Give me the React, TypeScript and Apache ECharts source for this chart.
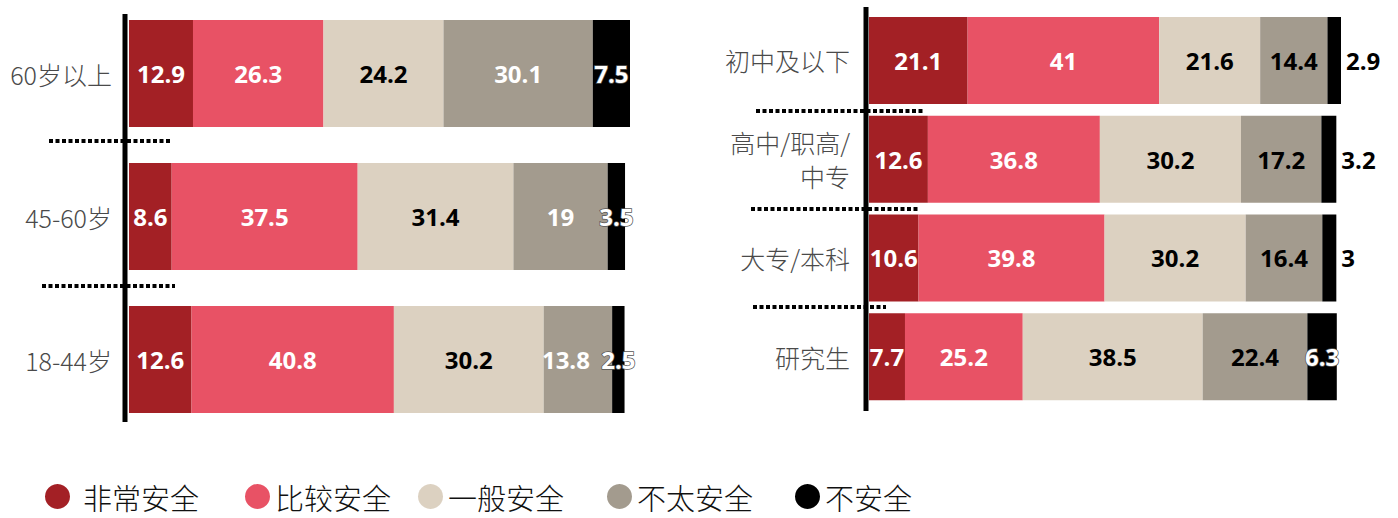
import React, { useEffect, useRef } from "react";
import * as echarts from "echarts";

const levels = ["非常安全", "比较安全", "一般安全", "不太安全", "不安全"];
const colors = ["#A32025", "#E85265", "#DCD1C1", "#A39B8E", "#000000"];

const ageCategories = ["60岁以上", "45-60岁", "18-44岁"];
const ageVerySafe = [12.9, 8.6, 12.6];
const ageFairlySafe = [26.3, 37.5, 40.8];
const ageAverage = [24.2, 31.4, 30.2];
const ageNotVery = [30.1, 19, 13.8];
const ageUnsafe = [7.5, 3.5, 2.5];

const eduCategories = ["初中及以下", "高中/职高/\n中专", "大专/本科", "研究生"];
const eduVerySafe = [21.1, 12.6, 10.6, 7.7];
const eduFairlySafe = [41, 36.8, 39.8, 25.2];
const eduAverage = [21.6, 30.2, 30.2, 38.5];
const eduNotVery = [14.4, 17.2, 16.4, 22.4];
const eduUnsafe = [2.9, 3.2, 3, 6.3];

const NUM_FONT = "'Open Sans', 'Noto Sans', sans-serif";
const CJK_FONT = "'Noto Sans CJK SC', 'Noto Sans', sans-serif";

export default function App() {
  const ref = useRef<HTMLDivElement>(null);
  useEffect(() => {
    if (!ref.current) return;
    const chart = echarts.init(ref.current, undefined, { renderer: "svg" });

    const baseLabel = (color: string) => ({
      show: true,
      position: "inside",
      color,
      fontFamily: NUM_FONT,
      fontWeight: "bold",
      fontSize: 24,
    });

    const ageSets = [ageVerySafe, ageFairlySafe, ageAverage, ageNotVery, ageUnsafe];
    const eduSets = [eduVerySafe, eduFairlySafe, eduAverage, eduNotVery, eduUnsafe];
    const ageLabelColors = ["#fff", "#fff", "#000", "#fff", "#fff"];
    const eduLabelColors = ["#fff", "#fff", "#000", "#000", "#000"];

    const series: any[] = [];
    ageSets.forEach((vals, i) => {
      const data =
        i === 3
          ? vals.map((v, j) => (j === vals.length - 1 ? { value: v, label: { offset: [-12, 0] } } : v))
          : vals;
      series.push({
        type: "bar",
        name: levels[i],
        stack: "age",
        xAxisIndex: 0,
        yAxisIndex: 0,
        barWidth: 107,
        itemStyle: { color: colors[i] },
        label:
          i === 4
            ? { ...baseLabel("#fff"), textBorderColor: "#555", textBorderWidth: 1.5 }
            : baseLabel(ageLabelColors[i]),
        data,
      });
    });
    eduSets.forEach((vals, i) => {
      const data =
        i === 4
          ? vals.map((v, j) =>
              j === vals.length - 1
                ? {
                    value: v,
                    label: {
                      position: "inside",
                      color: "#fff",
                      textBorderColor: "#555",
                      textBorderWidth: 1.5,
                    },
                  }
                : v
            )
          : vals;
      series.push({
        type: "bar",
        name: levels[i],
        stack: "edu",
        xAxisIndex: 1,
        yAxisIndex: 1,
        barWidth: 87,
        itemStyle: { color: colors[i] },
        label:
          i === 4
            ? { ...baseLabel("#000"), position: "right", distance: 5 }
            : baseLabel(eduLabelColors[i]),
        data,
      });
    });

    const legendX = [40, 240, 413, 602, 790];
    const legends = levels.map((name, i) => ({
      data: [name],
      left: legendX[i],
      top: 477,
      icon: "circle",
      itemWidth: 25,
      itemHeight: 25,
      itemGap: 0,
      textStyle: {
        fontFamily: CJK_FONT,
        fontSize: 29,
        fontWeight: 300,
        color: "#111",
        padding: [0, 0, 0, i === 0 ? 8 : 0],
      },
      selectedMode: false,
    }));

    const dotted = (x1: number, x2: number, y: number) => ({
      type: "line",
      shape: { x1, y1: y, x2, y2: y },
      style: { stroke: "#000", lineWidth: 4, lineDash: [4, 2.5] },
      z: 10,
    });
    const axisLine = (x: number, y1: number, y2: number) => ({
      type: "line",
      shape: { x1: x, y1, x2: x, y2 },
      style: { stroke: "#000", lineWidth: 5 },
      z: 11,
    });

    chart.setOption({
      animation: false,
      grid: [
        { left: 129, top: 2, width: 501, height: 429 },
        { left: 869, top: 11, width: 472, height: 395 },
      ],
      xAxis: [
        { type: "value", gridIndex: 0, min: 0, max: 101, show: false },
        { type: "value", gridIndex: 1, min: 0, max: 101, show: false },
      ],
      yAxis: [
        {
          type: "category",
          gridIndex: 0,
          inverse: true,
          data: ageCategories,
          axisLine: { show: false },
          axisTick: { show: false },
          axisLabel: {
            margin: 17,
            fontFamily: CJK_FONT,
            fontSize: 25,
            fontWeight: 300,
            color: "#4a4a4a",
          },
        },
        {
          type: "category",
          gridIndex: 1,
          inverse: true,
          data: eduCategories,
          axisLine: { show: false },
          axisTick: { show: false },
          axisLabel: {
            margin: 19,
            fontFamily: CJK_FONT,
            fontSize: 25,
            fontWeight: 300,
            color: "#4a4a4a",
            lineHeight: 34,
            align: "right",
          },
        },
      ],
      legend: legends,
      graphic: [
        axisLine(125, 14, 422),
        axisLine(866, 7, 411),
        dotted(49, 170, 141),
        dotted(42, 175, 286),
        dotted(756, 924, 111),
        dotted(751, 918, 209),
        dotted(753, 886, 307),
      ],
      series,
    });
    return () => chart.dispose();
  }, []);
  return (
    <div
      ref={ref}
      style={{ position: "fixed", left: 0, top: 0, width: 1398, height: 518, background: "#fff" }}
    />
  );
}
